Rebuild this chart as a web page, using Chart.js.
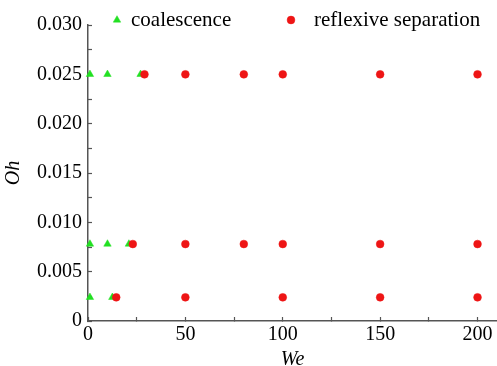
<!DOCTYPE html>
<html>
<head>
<meta charset="utf-8">
<script src="https://cdn.jsdelivr.net/npm/chart.js@4/dist/chart.umd.min.js"></script>
<style>
  html, body { margin: 0; padding: 0; background: #fff; }
  #wrap { width: 497px; height: 366px; }
</style>
</head>
<body>
<div id="wrap"><canvas id="c" width="497" height="366"></canvas></div>
<script>
// ---- data ----
const seriesNames = ['coalescence', 'reflexive separation'];
const coalescenceWe = [1, 10, 27, 1, 10, 21, 1, 12.5];
const coalescenceOh = [0.025, 0.025, 0.025, 0.0078, 0.0078, 0.0078, 0.0024, 0.0024];
const separationWe = [29, 50, 80, 100, 150, 200, 23, 50, 80, 100, 150, 200, 14.5, 50, 100, 150, 200];
const separationOh = [0.025, 0.025, 0.025, 0.025, 0.025, 0.025,
                      0.0078, 0.0078, 0.0078, 0.0078, 0.0078, 0.0078,
                      0.0024, 0.0024, 0.0024, 0.0024, 0.0024];
const xTickLabels = [0, 50, 100, 150, 200];
const yTickLabels = [0, 0.005, 0.010, 0.015, 0.020, 0.025, 0.030];
const xTitle = 'We';
const yTitle = 'Oh';

const toPoints = (xs, ys) => xs.map((x, i) => ({ x: x, y: ys[i] }));

const GREEN = '#22e022';
const RED = '#ee1515';
const AXIS = '#555555';
const SERIF = "'Liberation Serif', 'Times New Roman', serif";

// simple inset legend drawn on top of the chart, using dataset styles
const insetLegend = {
  id: 'insetLegend',
  afterDraw(chart) {
    const ctx = chart.ctx;
    const items = [
      { ds: 1, mx: 117, my: 20, tx: 131 },
      { ds: 0, mx: 291, my: 20, tx: 314 }
    ];
    ctx.save();
    items.forEach(it => {
      const d = chart.data.datasets[it.ds];
      ctx.fillStyle = d.backgroundColor;
      ctx.strokeStyle = d.borderColor;
      ctx.lineWidth = d.borderWidth || 0;
      if (Chart.helpers && Chart.helpers.drawPoint) {
        Chart.helpers.drawPoint(ctx, { pointStyle: d.pointStyle, radius: d.pointRadius, rotation: 0, borderWidth: d.borderWidth || 0 }, it.mx, it.my);
      }
      ctx.fillStyle = '#000';
      ctx.font = "21px " + SERIF;
      ctx.textBaseline = 'alphabetic';
      ctx.textAlign = 'left';
      ctx.fillText(d.label, it.tx, 26);
    });
    ctx.restore();
  }
};

const isMultiple = (v, step) => Math.abs(v / step - Math.round(v / step)) < 1e-6;

new Chart(document.getElementById('c'), {
  type: 'scatter',
  data: {
    datasets: [
      {
        label: seriesNames[1],
        data: toPoints(separationWe, separationOh),
        pointStyle: 'circle',
        pointRadius: 3.9,
        pointHoverRadius: 3.9,
        backgroundColor: RED,
        borderColor: RED,
        borderWidth: 0.5,
        order: 0,
        clip: false
      },
      {
        label: seriesNames[0],
        data: toPoints(coalescenceWe, coalescenceOh),
        pointStyle: 'triangle',
        pointRadius: 4.3,
        pointHoverRadius: 4.3,
        backgroundColor: GREEN,
        borderColor: GREEN,
        borderWidth: 0.5,
        order: 1,
        clip: false
      }
    ]
  },
  options: {
    responsive: false,
    animation: false,
    events: [],
    layout: { autoPadding: false, padding: { top: 25, right: 0, bottom: 0, left: 0 } },
    plugins: {
      legend: { display: false },
      tooltip: { enabled: false }
    },
    scales: {
      x: {
        type: 'linear',
        position: 'bottom',
        min: 0,
        max: 210,
        border: { display: true, color: AXIS, width: 1.5 },
        grid: { drawOnChartArea: false, drawTicks: true, tickLength: -4, tickColor: AXIS, tickWidth: 1.2 },
        ticks: {
          stepSize: 25,
          includeBounds: false,
          autoSkip: false,
          maxRotation: 0,
          padding: 6,
          color: '#000',
          font: { family: SERIF, size: 20 },
          callback: v => (xTickLabels.includes(v) ? String(v) : '')
        },
        title: {
          display: true,
          text: xTitle,
          color: '#000',
          font: { family: SERIF, size: 20, style: 'italic' },
          padding: { top: 0, bottom: -6 }
        },
        afterFit: s => { s.height = 45; s.paddingRight = 0; s.paddingLeft = 0; }
      },
      y: {
        type: 'linear',
        position: 'left',
        min: 0,
        max: 0.030,
        border: { display: true, color: AXIS, width: 1.5 },
        grid: { drawOnChartArea: false, drawTicks: true, tickLength: -4, tickColor: AXIS, tickWidth: 1.2 },
        ticks: {
          stepSize: 0.0025,
          includeBounds: false,
          autoSkip: false,
          padding: 10,
          color: '#000',
          font: { family: SERIF, size: 20 },
          callback: v => {
            if (!isMultiple(v, 0.005)) return '';
            const hit = yTickLabels.find(t => Math.abs(t - v) < 1e-9);
            if (hit === undefined) return '';
            return hit === 0 ? '0' : hit.toFixed(3);
          }
        },
        title: {
          display: true,
          text: yTitle,
          color: '#000',
          font: { family: SERIF, size: 20, style: 'italic' },
          padding: { top: 2, bottom: 0 }
        },
        afterFit: s => { s.width = 88; }
      }
    }
  },
  plugins: [insetLegend]
});
</script>
</body>
</html>
